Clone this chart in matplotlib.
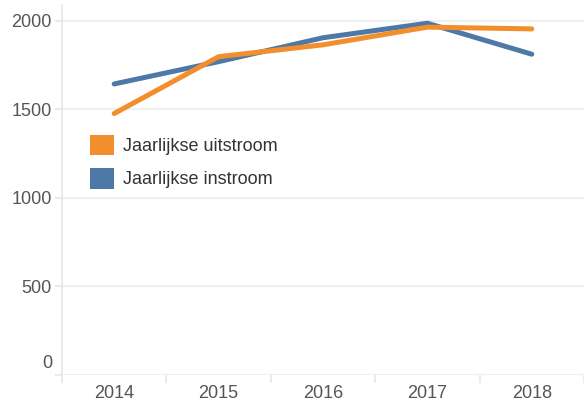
import matplotlib
matplotlib.use("Agg")
import matplotlib.pyplot as plt
from matplotlib.patches import Patch

# Yearly in/outflow figures
years = ["2014", "2015", "2016", "2017", "2018"]
uitstroom = [1477, 1798, 1865, 1965, 1955]
instroom = [1644, 1770, 1905, 1987, 1812]
series_labels = ["Jaarlijkse uitstroom", "Jaarlijkse instroom"]
y_ticks = [0, 500, 1000, 1500, 2000]

ORANGE = "#F28E2B"
BLUE = "#4E79A7"
GRID = "#efefef"
AXIS = "#e6e6e6"
TEXT = "#555555"

plt.rcParams["font.family"] = ["Liberation Sans", "DejaVu Sans"]

W, H, DPI = 584, 401, 100
fig = plt.figure(figsize=(W / DPI, H / DPI), dpi=DPI)
ax_left, ax_right, ax_top, ax_bottom = 62, 584, 5, 375
ax = fig.add_axes([ax_left / W, (H - ax_bottom) / H,
                   (ax_right - ax_left) / W, (ax_bottom - ax_top) / H])

x = list(range(len(years)))
ax.plot(x, instroom, color=BLUE, lw=3.6, solid_capstyle="round",
        solid_joinstyle="round", zorder=3)
ax.plot(x, uitstroom, color=ORANGE, lw=3.6, solid_capstyle="round",
        solid_joinstyle="round", zorder=4)

ax.set_xlim(-0.5, len(years) - 0.5)
ax.set_ylim(0, 2090)

# y axis: light gridlines, labels left of short ticks
ax.set_yticks(y_ticks)
ax.set_yticklabels([""] + [str(v) for v in y_ticks[1:]])
ax.yaxis.grid(True, color=GRID, lw=1.45, zorder=0)
ax.tick_params(axis="y", length=5, width=1.2, color=AXIS, pad=2.5,
               labelsize=13, labelcolor=TEXT)
ax.annotate("0", xy=(0, 0), xycoords=("axes fraction", "data"),
            xytext=(-10, 12), textcoords="offset pixels",
            ha="right", va="center", fontsize=13, color=TEXT)

# x axis: labels at category centres, separator ticks between bands
ax.set_xticks(x)
ax.set_xticklabels(years)
ax.set_xticks([i - 0.5 for i in range(len(years) + 1)], minor=True)
ax.tick_params(axis="x", which="major", length=0, pad=7,
               labelsize=13, labelcolor=TEXT)
ax.tick_params(axis="x", which="minor", length=6, width=1.2, color=AXIS)

for side in ["top", "right", "bottom"]:
    ax.spines[side].set_visible(False)
ax.spines["left"].set_color(AXIS)
ax.spines["left"].set_linewidth(1.2)
ax.set_axisbelow(True)

handles = [Patch(facecolor=ORANGE, edgecolor="none"),
           Patch(facecolor=BLUE, edgecolor="none")]
leg = ax.legend(handles, series_labels, loc="upper left",
                bbox_to_anchor=((90 - ax_left) / (ax_right - ax_left),
                                1 - (135 - ax_top) / (ax_bottom - ax_top)),
                frameon=False, fontsize=13, handlelength=1.35,
                handleheight=1.35, handletextpad=0.5, labelspacing=0.72,
                borderpad=0, borderaxespad=0)
for t in leg.get_texts():
    t.set_color("#333333")

fig.savefig("out.png", dpi=DPI)
